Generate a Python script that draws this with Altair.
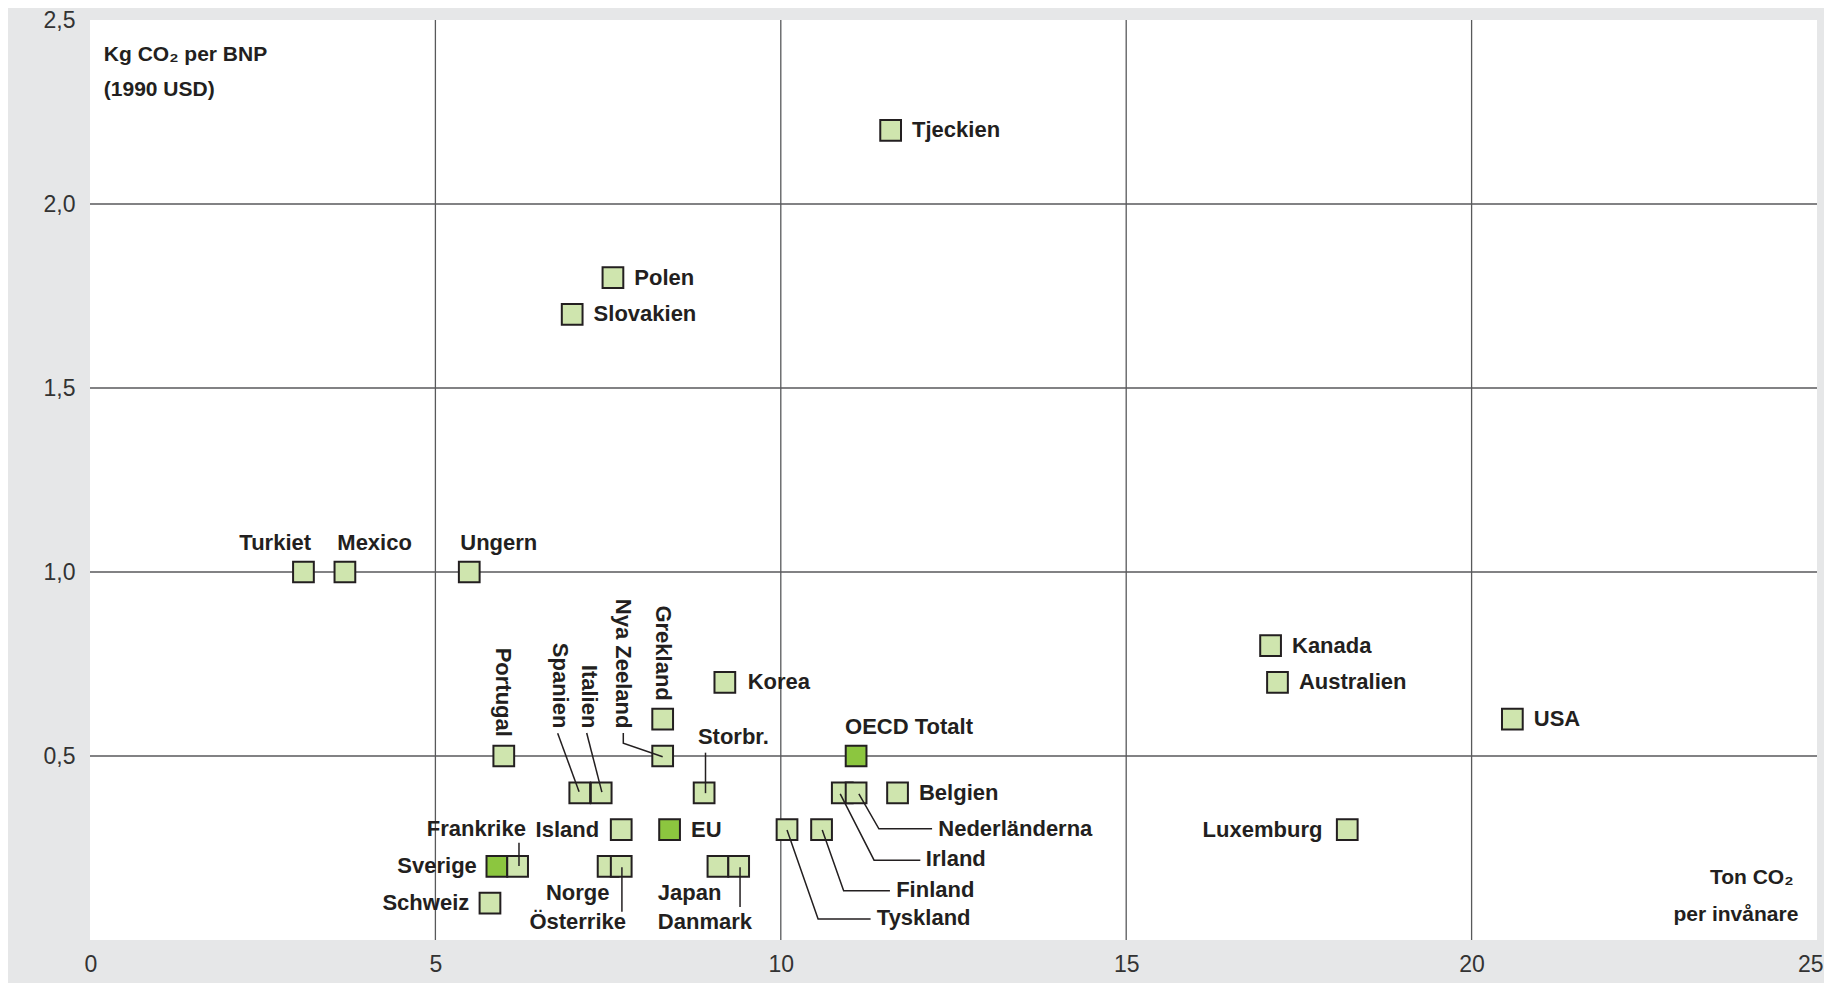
import altair as alt
import pandas as pd

# --- data: CO2 per inhabitant (x) and CO2 per GDP (y) ---
countries = ["Tjeckien", "Polen", "Slovakien", "Turkiet", "Mexico", "Ungern",
             "Kanada", "Australien", "USA", "Luxemburg", "Korea", "Grekland",
             "Nya Zeeland", "Portugal", "OECD Totalt", "Spanien", "Italien",
             "Storbr.", "Irland", "Nederländerna", "Belgien", "Island", "EU",
             "Tyskland", "Finland", "Sverige", "Frankrike", "Norge", "Österrike",
             "Japan", "Danmark", "Schweiz"]
ton_per_capita = [11.59, 7.57, 6.98, 3.09, 3.69, 5.49,
                  17.09, 17.19, 20.59, 18.20, 9.19, 8.29,
                  8.29, 5.99, 11.09, 7.09, 7.40,
                  8.89, 10.89, 11.09, 11.69, 7.69, 8.39,
                  10.09, 10.59, 5.89, 6.19, 7.50, 7.69,
                  9.09, 9.39, 5.79]
kg_per_gdp = [2.2, 1.8, 1.7, 1.0, 1.0, 1.0,
              0.8, 0.7, 0.6, 0.3, 0.7, 0.6,
              0.5, 0.5, 0.5, 0.4, 0.4,
              0.4, 0.4, 0.4, 0.4, 0.3, 0.3,
              0.3, 0.3, 0.2, 0.2, 0.2, 0.2,
              0.2, 0.2, 0.1]
highlighted = ["OECD Totalt", "EU", "Sverige"]

x_ticks = [0, 5, 10, 15, 20, 25]
y_ticks = [0.5, 1.0, 1.5, 2.0, 2.5]
x_grid = [5, 10, 15, 20]
y_grid = [0.5, 1.0, 1.5, 2.0]

# --- annotation layout (data units) ---
lab_text = ["Tjeckien", "Polen", "Slovakien", "Turkiet", "Mexico", "Ungern",
            "Kanada", "Australien", "USA", "Luxemburg", "Korea", "Grekland",
            "Nya Zeeland", "Portugal", "OECD Totalt", "Spanien", "Italien",
            "Storbr.", "Irland", "Nederländerna", "Belgien", "Island", "EU",
            "Tyskland", "Finland", "Sverige", "Frankrike", "Norge", "Österrike",
            "Japan", "Danmark", "Schweiz"]
lab_x = [11.90, 7.88, 7.29, 3.20, 3.58, 5.36,
         17.40, 17.50, 20.90, 17.84, 9.52, 8.30,
         7.71, 5.98, 10.93, 6.80, 7.22,
         8.80, 12.10, 12.28, 12.00, 7.37, 8.70,
         11.39, 11.67, 5.60, 6.31, 7.06, 7.06,
         8.22, 8.22, 5.49]
lab_y = [2.2, 1.8, 1.7, 1.079, 1.079, 1.079,
         0.8, 0.7, 0.6, 0.3, 0.7, 0.650,
         0.575, 0.552, 0.580, 0.575, 0.575,
         0.552, 0.220, 0.302, 0.4, 0.3, 0.3,
         0.059, 0.136, 0.2, 0.302, 0.127, 0.050,
         0.127, 0.050, 0.1]
lab_align = ["left", "left", "left", "right", "left", "left",
             "left", "left", "left", "right", "left", "right",
             "right", "right", "left", "right", "right",
             "left", "left", "left", "left", "right", "left",
             "left", "left", "right", "right", "center", "center",
             "left", "left", "right"]
lab_angle = [0, 0, 0, 0, 0, 0,
             0, 0, 0, 0, 0, 90,
             90, 90, 0, 90, 90,
             0, 0, 0, 0, 0, 0,
             0, 0, 0, 0, 0, 0,
             0, 0, 0]

leader_id = ["Spanien", "Spanien", "Italien", "Italien",
             "NZ", "NZ", "NZ", "Storbr", "Storbr",
             "Frankrike", "Frankrike", "Osterrike", "Osterrike",
             "Danmark", "Danmark",
             "Ned", "Ned", "Ned", "Irland", "Irland", "Irland",
             "Finland", "Finland", "Finland", "Tyskland", "Tyskland", "Tyskland"]
leader_x = [6.77, 7.08, 7.19, 7.41,
            7.72, 7.72, 8.29, 8.91, 8.91,
            6.21, 6.21, 7.70, 7.70,
            9.41, 9.41,
            11.13, 11.42, 12.19, 10.86, 11.35, 12.02,
            10.60, 10.91, 11.58, 10.09, 10.54, 11.30]
leader_y = [0.562, 0.403, 0.5625, 0.402,
            0.5625, 0.5345, 0.498, 0.509, 0.399,
            0.264, 0.201, 0.198, 0.077,
            0.198, 0.090,
            0.397, 0.302, 0.302, 0.397, 0.217, 0.217,
            0.299, 0.134, 0.134, 0.299, 0.057, 0.057]
leader_order = list(range(len(leader_id)))

ytitle_text = ["Kg CO₂ per BNP", "(1990 USD)"]
ytitle_x = [0.20, 0.20]
ytitle_y = [2.405, 2.31]
xtitle_text = ["Ton CO₂", "per invånare"]
xtitle_x = [24.66, 24.73]
xtitle_y = [0.168, 0.068]

# --- frames ---
pts = pd.DataFrame({"land": countries, "x": ton_per_capita, "y": kg_per_gdp})
pts["hl"] = pts["land"].isin(highlighted)
labs = pd.DataFrame({"t": lab_text, "x": lab_x, "y": lab_y,
                     "a": lab_align, "ang": lab_angle})
leaders = pd.DataFrame({"id": leader_id, "x": leader_x, "y": leader_y,
                        "o": leader_order})
ytitle = pd.DataFrame({"t": ytitle_text, "x": ytitle_x, "y": ytitle_y})
xtitle = pd.DataFrame({"t": xtitle_text, "x": xtitle_x, "y": xtitle_y})

FONT = "Liberation Sans"
INK = "#231f20"
LABEL_SIZE = 22

xs = alt.Scale(domain=[0, 25], nice=False, zero=False)
ys = alt.Scale(domain=[0, 2.5], nice=False, zero=False)

x_axis = alt.Axis(values=x_ticks, grid=False, domain=False, ticks=False,
                  title=None, labelPadding=13, labelFontSize=23,
                  labelFont=FONT, labelColor="#333333",
                  labelFontWeight="normal", labelFlush=True,
                  labelFlushOffset=6)
y_axis = alt.Axis(values=y_ticks, grid=False, domain=False, ticks=False,
                  title=None, labelPadding=15, labelFontSize=23,
                  labelFont=FONT, labelColor="#333333",
                  labelFontWeight="normal", labelFlush=False,
                  labelExpr="replace(format(datum.value, '.1f'), '.', ',')")

vgrid = alt.Chart(pd.DataFrame({"g": x_grid})).mark_rule(
    color="#58595b", strokeWidth=1.3).encode(
    x=alt.X("g:Q", scale=xs, axis=x_axis))
hgrid = alt.Chart(pd.DataFrame({"g": y_grid})).mark_rule(
    color="#58595b", strokeWidth=1.3).encode(
    y=alt.Y("g:Q", scale=ys, axis=y_axis))

squares = alt.Chart(pts).mark_square(
    size=430, opacity=1, stroke=INK, strokeWidth=2).encode(
    x=alt.X("x:Q", scale=xs, axis=x_axis),
    y=alt.Y("y:Q", scale=ys, axis=y_axis),
    fill=alt.condition("datum.hl", alt.value("#8cc63f"), alt.value("#cfe5ae")))

lines = alt.Chart(leaders).mark_line(color=INK, strokeWidth=1.5).encode(
    x=alt.X("x:Q", scale=xs, axis=x_axis), y=alt.Y("y:Q", scale=ys, axis=y_axis),
    detail="id:N", order="o:Q")

def text_layer(align):
    return alt.Chart(labs).transform_filter(
        alt.datum.a == align).mark_text(
        align=align, baseline="middle", font=FONT, fontSize=LABEL_SIZE,
        fontWeight="bold", color=INK).encode(
        x=alt.X("x:Q", scale=xs, axis=x_axis),
        y=alt.Y("y:Q", scale=ys, axis=y_axis),
        text="t:N", angle=alt.Angle("ang:Q", scale=None))

ytitle_layer = alt.Chart(ytitle).mark_text(
    align="left", baseline="middle", font=FONT, fontSize=21,
    fontWeight="bold", color=INK).encode(
    x=alt.X("x:Q", scale=xs, axis=x_axis),
    y=alt.Y("y:Q", scale=ys, axis=y_axis), text="t:N")
xtitle_layer = alt.Chart(xtitle).mark_text(
    align="right", baseline="middle", font=FONT, fontSize=21,
    fontWeight="bold", color=INK).encode(
    x=alt.X("x:Q", scale=xs, axis=x_axis),
    y=alt.Y("y:Q", scale=ys, axis=y_axis), text="t:N")

chart = alt.layer(
    vgrid, hgrid, squares, lines,
    text_layer("left"), text_layer("right"), text_layer("center"),
    ytitle_layer, xtitle_layer
).properties(
    width=1727, height=920,
    padding={"left": 82, "top": 12, "right": 7, "bottom": 43},
    autosize=alt.AutoSizeParams(type="none"),
    background="#e6e7e8"
).configure_view(fill="white", strokeWidth=0)

chart.save("out.html", embed_options={"renderer": "svg", "actions": False})
